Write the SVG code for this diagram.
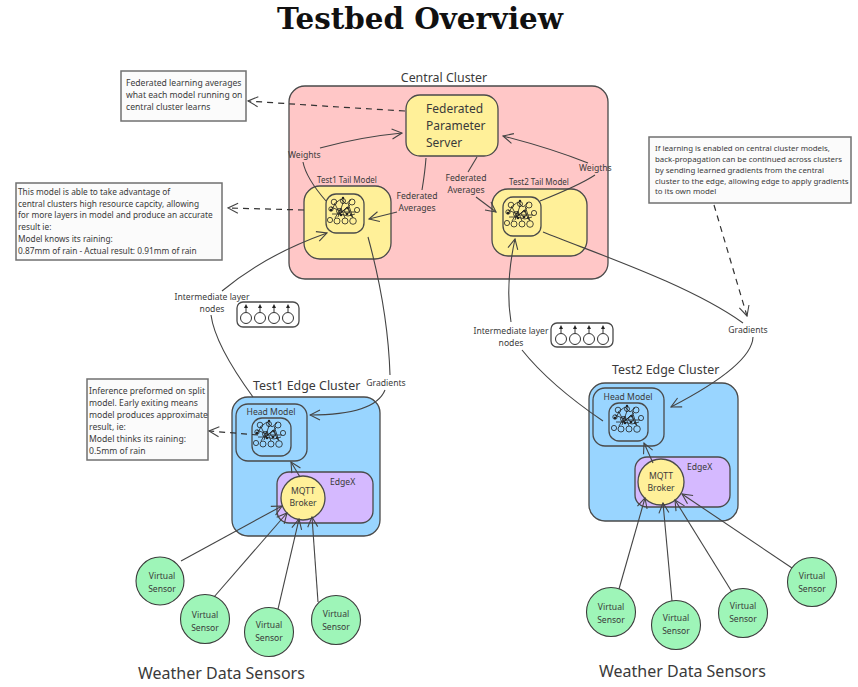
<svg xmlns="http://www.w3.org/2000/svg" width="858" height="687" viewBox="0 0 858 687">
<style>
text{font-family:"Noto Sans","Open Sans","Liberation Sans",sans-serif;fill:#3a3a3a}
.title{font-family:"DejaVu Serif","Liberation Serif",serif;font-weight:bold;font-size:29.500px;fill:#111}
.box{stroke:#4a4a4a;stroke-width:1.3}
.y{fill:#fff099}.p{fill:#d5b9ff}.g{fill:#9ef5b8;stroke:#3c3c3c;stroke-width:1.1}
.n{fill:#fbfbfb;stroke:#707070;stroke-width:1.5}
.e{fill:none;stroke:#444;stroke-width:1.1;marker-end:url(#a)}
.l{fill:none;stroke:#444;stroke-width:1.1}
.d{fill:none;stroke:#333;stroke-width:1.2;stroke-dasharray:6 5;marker-end:url(#a)}
.s85{font-size:8.6px}.s83{font-size:8.3px}.s78{font-size:7.85px}.s8{font-size:8px}.s12{font-size:12px}.s124{font-size:12.4px}.s16{font-size:16px}
.m{text-anchor:middle}
</style>
<defs>
<marker id="a" viewBox="0 0 12 12" refX="11" refY="6" markerWidth="12" markerHeight="12" markerUnits="userSpaceOnUse" orient="auto"><path d="M1 1L11 6L1 11" fill="none" stroke="#444" stroke-width="1.1"/></marker>
<g id="nn"><g fill="none" stroke="#222" stroke-width="0.8">
<circle cx="-14" cy="9" r="2.600"/><circle cx="-7" cy="10" r="3"/><circle cx="1" cy="10" r="3"/><circle cx="9" cy="10" r="3.300"/>
<circle cx="-13" cy="-2" r="2.200"/><circle cx="-5" cy="0" r="2.500"/><circle cx="3" cy="0" r="2.500"/><circle cx="13" cy="-1" r="2.600"/>
<circle cx="-10" cy="-9" r="2.800"/><circle cx="-1" cy="-10" r="2.500"/><circle cx="8" cy="-9" r="3"/>
<path d="M-1-14V-7M-10-7L-3-12L2-7L7-11M-13 0L-9-7L-4 3L3-4L8 6M-12 3L-4 3L4 5L11 3M-9 7L-3-3L1 7M-6 4L6-6M-1-8L-6 6M4-8L9 7M-13-4L-1 1L12 1"/></g>
<g fill="#222"><circle cx="-13" cy="-1" r="1.300"/><circle cx="-3" cy="4" r="1.300"/><circle cx="3" cy="3" r="1.300"/><circle cx="-1" cy="-13" r="1.200"/><circle cx="4" cy="-3" r="1.100"/><circle cx="7" cy="4" r="1"/></g></g>
<g id="mini"><g fill="none" stroke="#333" stroke-width="1"><circle cx="-21" cy="6" r="5.500"/><circle cx="-7" cy="6" r="5.500"/><circle cx="7" cy="6" r="5.500"/><circle cx="21" cy="6" r="5.500"/><path d="M-21 0V-6M-7 0V-6M7 0V-6M21 0V-6"/></g><path fill="#222" d="M-21-8l-2 4h4zM-7-8l-2 4h4zM7-8l-2 4h4zM21-8l-2 4h4z"/></g>
</defs>
<rect width="858" height="687" fill="#fff"/>
<text class="title" x="277" y="29" textLength="286" lengthAdjust="spacingAndGlyphs">Testbed Overview</text>

<g id="central-cluster"><rect class="box" x="289" y="86" width="319" height="193" rx="16" fill="#ffc7c7"/><text class="s124 m" x="444" y="82">Central Cluster</text></g>
<g id="test1-edge"><rect class="box" x="232" y="397" width="148" height="139" rx="16" fill="#99d5ff"/><text class="s124" x="253" y="390">Test1 Edge Cluster</text></g>
<g id="test2-edge"><rect class="box" x="589" y="383" width="149" height="138" rx="16" fill="#99d5ff"/><text class="s124" x="612" y="374">Test2 Edge Cluster</text></g>

<g id="fps"><rect class="box y" x="406" y="95" width="92" height="61" rx="14"/><text class="s12" x="426" y="113">Federated</text><text class="s12" x="426" y="130">Parameter</text><text class="s12" x="426" y="147">Server</text></g>

<g id="test1-tail"><rect class="box y" x="304" y="186" width="87" height="73" rx="16"/><text class="s8 m" x="347" y="183">Test1 Tail Model</text><rect class="box" x="326" y="194" width="38" height="39" rx="10" fill="none"/><use href="#nn" x="344" y="211"/></g>
<g id="test2-tail"><rect class="box y" x="492" y="189" width="95" height="67" rx="16"/><text class="s8 m" x="539" y="185">Test2 Tail Model</text><rect class="box" x="503" y="197" width="38" height="39" rx="10" fill="none"/><use href="#nn" x="521" y="214"/></g>

<g id="test1-head"><rect class="box" x="236" y="404" width="71" height="57" rx="12" fill="none"/><text class="s85 m" x="271" y="415">Head Model</text><rect class="box" x="252" y="418" width="39" height="38" rx="10" fill="none"/><use href="#nn" x="270" y="434"/></g>
<g id="test2-head"><rect class="box" x="593" y="388" width="71" height="58" rx="12" fill="none"/><text class="s85 m" x="628" y="400">Head Model</text><rect class="box" x="609" y="403" width="39" height="38" rx="10" fill="none"/><use href="#nn" x="628" y="419"/></g>

<g id="edgex1"><rect class="box p" x="277" y="472" width="96" height="51" rx="12"/><text class="s85" x="330" y="485">EdgeX</text></g>
<g id="edgex2"><rect class="box p" x="635" y="457" width="95" height="50" rx="12"/><text class="s85" x="687" y="470">EdgeX</text></g>
<g id="mqtt1"><circle class="box y" cx="303" cy="498" r="22"/><text class="s85 m" x="303" y="494">MQTT</text><text class="s85 m" x="303" y="506">Broker</text></g>
<g id="mqtt2"><circle class="box y" cx="661" cy="482" r="23"/><text class="s85 m" x="661" y="479">MQTT</text><text class="s85 m" x="661" y="491">Broker</text></g>

<g id="sensors">
<g id="s1"><circle class="g" cx="160" cy="581" r="24"/><text class="s85 m" x="162" y="579">Virtual</text><text class="s85 m" x="162" y="592">Sensor</text></g>
<g id="s2"><circle class="g" cx="205" cy="619" r="24.500"/><text class="s85 m" x="205" y="618">Virtual</text><text class="s85 m" x="205" y="631">Sensor</text></g>
<g id="s3"><circle class="g" cx="269" cy="632" r="24.500"/><text class="s85 m" x="269" y="628">Virtual</text><text class="s85 m" x="269" y="641">Sensor</text></g>
<g id="s4"><circle class="g" cx="336" cy="620" r="24.500"/><text class="s85 m" x="336" y="617">Virtual</text><text class="s85 m" x="336" y="630">Sensor</text></g>
<g id="s5"><circle class="g" cx="611" cy="612" r="24.500"/><text class="s85 m" x="611" y="610">Virtual</text><text class="s85 m" x="611" y="623">Sensor</text></g>
<g id="s6"><circle class="g" cx="676" cy="625" r="24.500"/><text class="s85 m" x="676" y="621">Virtual</text><text class="s85 m" x="676" y="634">Sensor</text></g>
<g id="s7"><circle class="g" cx="743" cy="613" r="24.500"/><text class="s85 m" x="743" y="609">Virtual</text><text class="s85 m" x="743" y="622">Sensor</text></g>
<g id="s8"><circle class="g" cx="812" cy="582" r="24.500"/><text class="s85 m" x="812" y="579">Virtual</text><text class="s85 m" x="812" y="592">Sensor</text></g>
</g>

<g id="mini1"><rect class="box" x="237" y="302" width="62" height="25" rx="6" fill="none"/><use href="#mini" x="267" y="312"/></g>
<g id="mini2"><rect class="box" x="551" y="323" width="62" height="24" rx="6" fill="none"/><use href="#mini" x="582" y="333"/></g>

<g id="note1"><rect class="n" x="121" y="71" width="125" height="50"/><text class="s85" x="126" y="86">Federated learning averages</text><text class="s85" x="126" y="98">what each model running on</text><text class="s85" x="126" y="110">central cluster learns</text></g>
<g id="note2"><rect class="n" x="16" y="183" width="206" height="77"/><text class="s83" x="18" y="195">This model is able to take advantage of</text><text class="s83" x="18" y="207">central clusters high resource capcity, allowing</text><text class="s83" x="18" y="218">for more layers in model and produce an accurate</text><text class="s83" x="18" y="230">result ie:</text><text class="s83" x="18" y="242">Model knows its raining:</text><text class="s83" x="18" y="254">0.87mm of rain - Actual result: 0.91mm of rain</text></g>
<g id="note3"><rect class="n" x="87" y="379" width="121" height="81"/><text class="s85" x="89" y="394">Inference preformed on split</text><text class="s85" x="89" y="406">model. Early exiting means</text><text class="s85" x="89" y="418">model produces approximate</text><text class="s85" x="89" y="430">result, ie:</text><text class="s85" x="89" y="442">Model thinks its raining:</text><text class="s85" x="89" y="454">0.5mm of rain</text></g>
<g id="note4"><rect class="n" x="649" y="137" width="202" height="66"/><text class="s78" x="655" y="151">If learning is enabled on central cluster models,</text><text class="s78" x="655" y="162">back-propagation can be continued across clusters</text><text class="s78" x="655" y="173">by sending learned gradients from the central</text><text class="s78" x="655" y="183.500">cluster to the edge, allowing edge to apply gradients</text><text class="s78" x="655" y="194">to its own model</text></g>

<g id="connectors">
<path class="d" d="M405 111Q320 106 248 101"/>
<path class="d" d="M304 210L228 208"/>
<path class="d" d="M258 435L209 431"/>
<path class="d" d="M714 205L747 316"/>
<path class="e" d="M320 148Q360 137 402 133"/>
<path class="l" d="M303 162Q306 178 326 201"/>
<path class="l" d="M426 158Q425 172 422 190"/>
<path class="e" d="M397 212L369 219"/>
<path class="l" d="M477 157L468 172"/>
<path class="e" d="M476 197L496 212"/>
<path class="e" d="M588 163Q550 148 503 136"/>
<path class="l" d="M540 201Q580 185 595 175"/>
<path class="e" d="M222 291Q265 255 327 233"/>
<path class="l" d="M211 315Q215 345 253 397"/>
<path class="l" d="M368 237Q388 310 390 375"/>
<path class="e" d="M385 390Q375 415 310 415"/>
<path class="e" d="M511 322Q505 285 515 239"/>
<path class="l" d="M522 350Q550 385 603 421"/>
<path class="l" d="M543 232C600 255 690 285 743 323"/>
<path class="e" d="M753 337Q752 365 671 407"/>
<path class="e" d="M300 477L291 462"/>
<path class="e" d="M653 463L644 443"/>
<path class="e" d="M181 561L282 506"/>
<path class="e" d="M214 597L287 513"/>
<path class="e" d="M278 609L299 519"/>
<path class="e" d="M318 602L312 517"/>
<path class="e" d="M619 589L645 498"/>
<path class="e" d="M672 601L663 503"/>
<path class="e" d="M732 592L675 500"/>
<path class="e" d="M792 568L682 494"/>
</g>

<g id="labels">
<text class="s85" x="288" y="158">Weights</text>
<text class="s85 m" x="417" y="199">Federated</text><text class="s85 m" x="417" y="211">Averages</text>
<text class="s85 m" x="466" y="181">Federated</text><text class="s85 m" x="466" y="193">Averages</text>
<text class="s85" x="579" y="171">Weigths</text>
<text class="s85 m" x="212" y="300">Intermediate layer</text><text class="s85 m" x="212" y="312">nodes</text>
<text class="s85 m" x="511" y="334">Intermediate layer</text><text class="s85 m" x="511" y="346">nodes</text>
<text class="s85 m" x="386" y="386">Gradients</text>
<text class="s85 m" x="748" y="333">Gradients</text>
<text class="s16" x="138" y="679">Weather Data Sensors</text>
<text class="s16" x="599" y="677">Weather Data Sensors</text>
</g>
</svg>
